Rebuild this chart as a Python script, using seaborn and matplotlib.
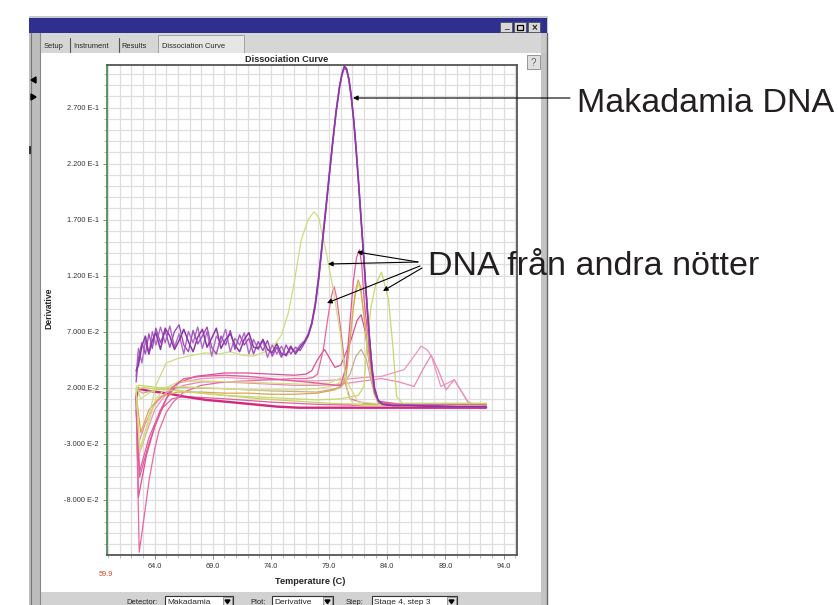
import matplotlib
matplotlib.use("Agg")
import matplotlib.pyplot as plt
from matplotlib.patches import Rectangle, Polygon
import pandas as pd
import seaborn as sns

# Dissociation curves: temperature (C) vs derivative
# Makadamia replicates (purple) share one temperature list
mak_t = [62.4, 62.6, 62.9, 63.2, 63.5, 63.8, 64.1, 64.5, 64.9, 65.3,
         65.7, 66.1, 66.5, 66.9, 67.3, 67.7, 68.1, 68.5, 68.9, 69.3,
         69.7, 70.1, 70.5, 70.9, 71.3, 71.7, 72.1, 72.5, 72.9, 73.3,
         73.7, 74.1, 74.5, 74.9, 75.3, 75.7, 76.1, 76.5, 76.9, 77.2,
         77.5, 77.8, 78.1, 78.4, 78.7, 79.0, 79.3, 79.6, 79.9, 80.1,
         80.3, 80.5, 80.7, 80.9, 81.1, 81.3, 81.5, 81.7, 81.9, 82.1,
         82.3, 82.5, 82.7, 82.9, 83.2, 83.6, 84.5, 86.0, 88.0, 90.0,
         92.5]
mak1_d = [0.030, 0.055, 0.042, 0.062, 0.050, 0.070, 0.058, 0.074, 0.060, 0.075,
          0.056, 0.068, 0.050, 0.070, 0.060, 0.074, 0.055, 0.070, 0.048, 0.066,
          0.060, 0.072, 0.052, 0.064, 0.058, 0.069, 0.050, 0.063, 0.054, 0.062,
          0.047, 0.058, 0.050, 0.057, 0.048, 0.055, 0.052, 0.058, 0.062, 0.068,
          0.078, 0.095, 0.120, 0.150, 0.180, 0.210, 0.240, 0.268, 0.290, 0.300,
          0.306, 0.303, 0.294, 0.278, 0.258, 0.233, 0.205, 0.175, 0.145, 0.115,
          0.085, 0.058, 0.035, 0.018, 0.008, 0.005, 0.004, 0.004, 0.003, 0.003,
          0.003]
mak2_d = [0.025, 0.046, 0.060, 0.050, 0.068, 0.055, 0.073, 0.060, 0.071, 0.056,
          0.070, 0.076, 0.058, 0.052, 0.071, 0.059, 0.066, 0.074, 0.056, 0.050,
          0.066, 0.058, 0.071, 0.054, 0.067, 0.058, 0.064, 0.050, 0.061, 0.053,
          0.062, 0.048, 0.056, 0.047, 0.058, 0.050, 0.056, 0.053, 0.060, 0.066,
          0.076, 0.092, 0.116, 0.146, 0.176, 0.207, 0.237, 0.265, 0.288, 0.299,
          0.305, 0.304, 0.296, 0.281, 0.261, 0.237, 0.209, 0.179, 0.149, 0.118,
          0.088, 0.061, 0.037, 0.020, 0.009, 0.005, 0.004, 0.004, 0.004, 0.003,
          0.003]
mak3_d = [0.035, 0.040, 0.057, 0.066, 0.050, 0.062, 0.069, 0.054, 0.073, 0.066,
          0.054, 0.062, 0.072, 0.061, 0.052, 0.065, 0.072, 0.056, 0.064, 0.073,
          0.055, 0.063, 0.068, 0.058, 0.052, 0.063, 0.069, 0.056, 0.055, 0.063,
          0.054, 0.051, 0.059, 0.050, 0.049, 0.057, 0.050, 0.056, 0.061, 0.067,
          0.077, 0.094, 0.118, 0.148, 0.178, 0.209, 0.239, 0.267, 0.289, 0.300,
          0.307, 0.305, 0.295, 0.280, 0.260, 0.235, 0.207, 0.177, 0.147, 0.117,
          0.087, 0.060, 0.036, 0.019, 0.009, 0.005, 0.004, 0.004, 0.003, 0.003,
          0.003]

# other nuts
yg1_t = [62.4, 62.7, 63.3, 64.1, 65.0, 66.0, 67.3, 68.4, 69.5, 70.5,
         71.5, 72.5, 73.5, 74.3, 74.9, 75.5, 76.0, 76.6, 77.2, 77.7,
         78.1, 78.7, 79.35, 79.9, 80.3, 80.6, 81.1, 82.0, 84.0, 86.0,
         88.0, 90.0, 92.5]
yg1_d = [0.020, -0.035, -0.015, 0.022, 0.042, 0.046, 0.049, 0.051, 0.050, 0.052,
         0.049, 0.048, 0.052, 0.058, 0.067, 0.087, 0.114, 0.152, 0.170, 0.177,
         0.172, 0.143, 0.108, 0.072, 0.039, 0.014, 0.005, 0.004, 0.004, 0.004,
         0.004, 0.004, 0.004]

yg2_t = [62.4, 63.0, 64.0, 66.0, 68.0, 70.0, 72.0, 74.0, 76.0, 78.0,
         80.0, 81.5, 82.0, 82.2, 82.6, 83.0, 83.5, 84.1, 84.5, 84.8,
         85.3, 87.0, 89.0, 91.0, 92.5]
yg2_d = [0.018, 0.020, 0.019, 0.017, 0.015, 0.013, 0.012, 0.011, 0.010, 0.009,
         0.010, 0.013, 0.021, 0.054, 0.092, 0.112, 0.123, 0.099, 0.054, 0.012,
         0.006, 0.006, 0.006, 0.006, 0.006]

pk1_t = [62.4, 62.7, 63.5, 64.5, 65.5, 66.5, 68.0, 70.0, 72.0, 74.0,
         76.0, 78.0, 79.5, 80.0, 80.46, 80.72, 81.07, 81.35, 81.6, 81.8,
         82.0, 82.45, 82.87, 83.3, 85.0, 88.0, 90.0, 92.5]
pk1_d = [0.000, -0.060, -0.030, 0.000, 0.020, 0.028, 0.030, 0.031, 0.030, 0.028,
         0.026, 0.024, 0.022, 0.022, 0.039, 0.069, 0.114, 0.136, 0.143, 0.130,
         0.099, 0.054, 0.016, 0.006, 0.005, 0.005, 0.005, 0.005]

pk2_t = [62.4, 62.67, 63.1, 63.53, 64.0, 64.39, 65.0, 65.59, 66.5, 68.0,
         70.0, 72.0, 74.0, 76.0, 77.0, 77.6, 78.0, 78.5, 78.9, 79.2,
         79.43, 79.65, 79.86, 80.2, 80.46, 80.8, 82.0, 84.0, 86.0, 88.0,
         90.0, 92.5]
pk2_d = [0.010, -0.127, -0.095, -0.062, -0.035, -0.018, -0.002, 0.007, 0.016, 0.022,
         0.025, 0.026, 0.027, 0.028, 0.028, 0.029, 0.032, 0.054, 0.083, 0.102,
         0.110, 0.100, 0.083, 0.054, 0.021, 0.010, 0.006, 0.005, 0.005, 0.005,
         0.005, 0.005]

pk3_t = [62.4, 62.6, 63.3, 64.0, 65.0, 66.0, 67.5, 70.0, 72.0, 74.0,
         76.0, 77.0, 77.5, 78.0, 78.6, 79.1, 79.5, 80.0, 80.8, 81.4,
         81.75, 82.1, 82.4, 82.8, 83.2, 85.0, 88.0, 90.0, 92.5]
pk3_d = [0.012, -0.078, -0.040, -0.015, 0.010, 0.024, 0.030, 0.033, 0.033, 0.032,
         0.031, 0.032, 0.035, 0.045, 0.054, 0.045, 0.038, 0.040, 0.060, 0.080,
         0.085, 0.070, 0.045, 0.020, 0.008, 0.005, 0.005, 0.005, 0.005]

pk4_t = [62.4, 62.6, 63.3, 64.0, 65.0, 66.0, 68.0, 70.0, 72.0, 74.0,
         76.0, 78.0, 80.0, 82.0, 83.5, 85.45, 86.3, 86.9, 87.4, 87.8,
         88.6, 89.2, 89.75, 90.3, 90.95, 91.5, 92.5]
pk4_d = [0.015, -0.042, -0.020, 0.000, 0.015, 0.024, 0.028, 0.029, 0.028, 0.027,
         0.026, 0.026, 0.027, 0.029, 0.030, 0.036, 0.048, 0.057, 0.054, 0.048,
         0.021, 0.024, 0.027, 0.018, 0.007, 0.005, 0.005]

pk5_t = [62.4, 62.6, 63.2, 64.0, 65.0, 66.5, 68.0, 70.0, 72.0, 74.0,
         76.0, 78.0, 80.0, 82.0, 83.5, 85.0, 86.3, 87.0, 87.77, 88.4,
         89.06, 89.75, 90.4, 91.04, 92.5]
pk5_d = [0.013, -0.030, -0.012, 0.005, 0.016, 0.022, 0.025, 0.025, 0.024, 0.023,
         0.022, 0.022, 0.023, 0.026, 0.028, 0.025, 0.021, 0.035, 0.049, 0.035,
         0.018, 0.027, 0.016, 0.005, 0.004]

og1_t = [62.4, 62.8, 63.5, 64.5, 66.0, 68.0, 70.0, 72.0, 74.0, 76.0,
         78.0, 79.5, 80.1, 80.46, 80.72, 81.07, 81.3, 81.5, 81.7, 81.93,
         82.36, 82.87, 83.3, 85.0, 88.0, 90.0, 92.5]
og1_d = [0.015, -0.020, 0.000, 0.012, 0.016, 0.016, 0.015, 0.015, 0.014, 0.014,
         0.015, 0.018, 0.022, 0.030, 0.054, 0.090, 0.108, 0.116, 0.110, 0.090,
         0.054, 0.016, 0.006, 0.005, 0.005, 0.005, 0.005]
yg3_d = [0.022, 0.010, 0.015, 0.020, 0.021, 0.020, 0.019, 0.018, 0.018, 0.018,
         0.019, 0.022, 0.026, 0.034, 0.057, 0.092, 0.106, 0.112, 0.107, 0.088,
         0.050, 0.013, 0.005, 0.004, 0.004, 0.004, 0.004]

tn1_t = [62.4, 63.0, 64.0, 66.0, 70.0, 74.0, 78.0, 80.0, 80.8, 81.3,
         81.75, 82.2, 82.7, 83.2, 86.0, 89.0, 92.5]
tn1_d = [0.018, 0.015, 0.018, 0.020, 0.019, 0.017, 0.016, 0.020, 0.032, 0.048,
         0.054, 0.045, 0.022, 0.007, 0.005, 0.005, 0.005]

yg4_t = [62.4, 62.7, 63.3, 64.1, 65.0, 66.0, 68.0, 71.0, 74.0, 77.0,
         79.0, 80.3, 80.8, 81.5, 84.0, 88.0, 92.5]
yg4_d = [0.018, -0.038, -0.018, 0.010, 0.020, 0.025, 0.026, 0.025, 0.024, 0.023,
         0.024, 0.030, 0.020, 0.007, 0.005, 0.005, 0.005]

# flat baselines
bl1_t = [62.4, 62.6, 63.5, 65.0, 66.5, 68.4, 70.5, 72.5, 74.5, 76.4,
         79.0, 82.0, 85.0, 88.0, 90.5, 92.5]
bl1_d = [0.010, 0.019, 0.017, 0.015, 0.012, 0.009, 0.007, 0.005, 0.003, 0.002,
         0.002, 0.002, 0.002, 0.002, 0.002, 0.002]
bl2_t = [62.4, 62.6, 63.5, 65.0, 67.0, 70.0, 73.0, 76.0, 79.0, 82.0,
         85.0, 88.0, 92.5]
bl2_d = [0.012, 0.022, 0.021, 0.019, 0.016, 0.013, 0.010, 0.008, 0.006, 0.005,
         0.005, 0.005, 0.005]
bl3_t = [62.4, 62.7, 63.5, 64.5, 65.5, 66.5, 70.0, 74.0, 78.0, 82.0,
         86.0, 92.5]
bl3_d = [0.012, -0.055, -0.025, 0.000, 0.010, 0.012, 0.010, 0.007, 0.005, 0.004,
         0.004, 0.004]

x_ticks = [64.0, 69.0, 74.0, 79.0, 84.0, 89.0, 94.0]
x_labels = ["64.0", "69.0", "74.0", "79.0", "84.0", "89.0", "94.0"]
y_ticks = [0.27, 0.22, 0.17, 0.12, 0.07, 0.02, -0.03, -0.08]
y_labels = ["2.700 E-1", "2.200 E-1", "1.700 E-1", "1.200 E-1",
            "7.000 E-2", "2.000 E-2", "-3.000 E-2", "-8.000 E-2"]

# long table, drawing order = back to front
curves = {
    "bl2": (bl2_t, bl2_d), "bl3": (bl3_t, bl3_d), "bl1": (bl1_t, bl1_d),
    "pk5": (pk5_t, pk5_d), "pk4": (pk4_t, pk4_d), "tn1": (tn1_t, tn1_d),
    "pk3": (pk3_t, pk3_d), "pk2": (pk2_t, pk2_d), "yg4": (yg4_t, yg4_d),
    "yg3": (og1_t, yg3_d), "og1": (og1_t, og1_d), "pk1": (pk1_t, pk1_d),
    "yg2": (yg2_t, yg2_d), "yg1": (yg1_t, yg1_d),
    "mak1": (mak_t, mak1_d), "mak2": (mak_t, mak2_d), "mak3": (mak_t, mak3_d),
}
df = pd.concat([pd.DataFrame({"curve": k, "temp": t, "deriv": d})
                for k, (t, d) in curves.items()], ignore_index=True)

colors = {
    "bl1": "#d4287c", "bl2": "#c4d65c", "bl3": "#e2609f",
    "pk1": "#e4579c", "pk2": "#e8689f", "pk3": "#de4f94", "pk4": "#ee93bd",
    "pk5": "#ec86b5", "tn1": "#c9ab92", "og1": "#dba54c", "yg1": "#cddd7c",
    "yg2": "#c6d86e", "yg3": "#d2df80", "yg4": "#d3df82",
    "mak1": "#b06ac8", "mak2": "#a04ebb", "mak3": "#8b37a6",
}
widths = {"bl1": 1.7, "mak1": 1.0, "mak2": 1.0, "mak3": 1.1}

sns.set_style("white")
plt.rcParams["font.family"] = ["Liberation Sans", "DejaVu Sans"]

W, H = 838, 605
fig = plt.figure(figsize=(W / 100, H / 100), dpi=100)

# window chrome in pixel coordinates
bg = fig.add_axes([0, 0, 1, 1])
bg.set_xlim(0, W)
bg.set_ylim(H, 0)
bg.axis("off")


def box(x0, y0, x1, y1, fc, ec="none", lw=0.0, z=1):
    bg.add_patch(Rectangle((x0, y0), x1 - x0, y1 - y0, facecolor=fc,
                           edgecolor=ec, linewidth=lw, zorder=z))


box(29, 16, 548, 610, "#c9c9c9")
box(29, 18, 547, 33, "#2e2f8e", z=2)
for bx in [500, 514, 528]:
    box(bx, 22, bx + 12, 32, "#d8d8d8", "#555555", 0.6, z=3)
bg.text(506, 29, "_", ha="center", va="baseline", fontsize=6, weight="bold", zorder=4)
bg.add_patch(Rectangle((517, 24.5), 6, 5, fill=False, ec="black", lw=0.9, zorder=4))
bg.text(534, 27.5, "×", ha="center", va="center", fontsize=7, weight="bold", zorder=4)

# left side strip
box(29, 33, 40, 610, "#bdbdbd", z=2)
bg.plot([31, 31], [33, 605], color="#777777", lw=0.8, zorder=3)
bg.plot([39.5, 39.5], [33, 605], color="#888888", lw=0.8, zorder=3)
bg.add_patch(Polygon([[36, 77], [36, 83], [31, 80]], color="black", zorder=3))
bg.add_patch(Polygon([[31, 94], [31, 100], [36, 97]], color="black", zorder=3))
box(29, 146, 31, 154, "#333333", z=3)

# tabs
box(40, 33, 541, 53, "#d6d6d6", z=2)
box(158, 35, 244, 53, "#e6e6e6", "#999999", 0.6, z=2)
for tx, label in [(44, "Setup"), (73, "Instrument"), (121, "Results"), (162, "Dissociation Curve")]:
    bg.text(tx, 46, label, fontsize=5.4, va="center", ha="left", zorder=3)
for sx in [70, 119]:
    bg.plot([sx, sx], [38, 52], color="#555555", lw=0.8, zorder=3)

# content area and right border
box(40, 53, 541, 592, "white", z=2)
box(541, 53, 548, 610, "#c3c3c3", z=2)
bg.plot([546.5, 546.5], [33, 605], color="#666666", lw=1.0, zorder=3)
box(527, 55, 540, 69, "#e0e0e0", "#888888", 0.6, z=3)
bg.text(533.5, 62.5, "?", ha="center", va="center", fontsize=7, color="#666666", zorder=4)

# bottom control panel
box(40, 592, 541, 610, "#d2d2d2", z=2)
for lx, label, x0, x1, val in [(158, "Detector:", 165, 233, "Makadamia"),
                               (266, "Plot:", 272, 333, "Derivative"),
                               (364, "Step:", 372, 457, "Stage 4, step 3")]:
    bg.text(lx, 602, label, ha="right", va="center", fontsize=5.5, zorder=4)
    box(x0, 596, x1, 612, "white", "#333333", 0.8, z=3)
    bg.text(x0 + 2, 602, val, ha="left", va="center", fontsize=6, zorder=4)
    box(x1 - 10, 597, x1 - 1, 612, "#dcdcdc", "#777777", 0.5, z=4)
    bg.add_patch(Polygon([[x1 - 8, 600], [x1 - 3, 600], [x1 - 5.5, 603.5]],
                         color="black", zorder=5))

# the plot itself
ax = fig.add_axes([107 / W, 1 - 555 / H, 410 / W, 490 / H], zorder=3)
for name in curves:
    sns.lineplot(data=df[df["curve"] == name], x="temp", y="deriv",
                 color=colors[name], lw=widths.get(name, 0.9),
                 estimator=None, sort=False, ax=ax)

ax.set_xlim(59.9, 95.15)
ax.set_ylim(-0.1295, 0.308)
ax.set_xticks(x_ticks)
ax.set_xticklabels(x_labels)
ax.set_yticks(y_ticks)
ax.set_yticklabels(y_labels)
ax.set_xticks([60 + i for i in range(36)], minor=True)
ax.set_yticks([-0.12 + 0.01 * i for i in range(43)], minor=True)
ax.grid(which="both", color="#dedede", lw=0.9)
ax.set_axisbelow(True)
ax.tick_params(which="major", labelsize=5.3, labelcolor="#333333", length=3,
               width=0.6, color="#777777", pad=3, left=True, bottom=True)
ax.tick_params(which="minor", length=2, width=0.5, color="#999999", left=True, bottom=True)
ax.set_xlabel("")
ax.set_ylabel("")
for side in ["top", "right", "bottom"]:
    ax.spines[side].set_color("#555555")
    ax.spines[side].set_linewidth(1.3)
ax.spines["left"].set_color("#4d8a5c")
ax.spines["left"].set_linewidth(1.3)

# labels and annotations on top
ov = fig.add_axes([0, 0, 1, 1], zorder=6)
ov.set_xlim(0, W)
ov.set_ylim(H, 0)
ov.axis("off")
ov.patch.set_alpha(0)

ov.text(287, 59, "Dissociation Curve", ha="center", va="center", fontsize=6.6, weight="bold")
ov.text(310, 582, "Temperature (C)", ha="center", va="center", fontsize=6.6, weight="bold")
ov.text(49, 308, "Derivative", ha="center", va="center", rotation=90, fontsize=6.2, weight="bold")
ov.text(106, 574, "59.9", ha="center", va="center", fontsize=5.3, color="#e0452e")

arrow = dict(arrowstyle="-|>", color="black", lw=0.8, mutation_scale=7,
             shrinkA=0, shrinkB=0)
ov.annotate("", xy=(353, 98), xytext=(570, 98), arrowprops=arrow)
ov.text(577, 112, "Makadamia DNA", fontsize=24.5, va="baseline", ha="left", color="#231f20")
for start, end in [((418, 262), (328, 264)), ((418, 262), (357, 252)),
                   ((420, 266), (327, 303)), ((422, 268), (383, 291))]:
    ov.annotate("", xy=end, xytext=start, arrowprops=arrow)
ov.text(428, 275, "DNA från andra nötter", fontsize=24.5, va="baseline", ha="left", color="#231f20")

fig.savefig("out.png", dpi=100)
